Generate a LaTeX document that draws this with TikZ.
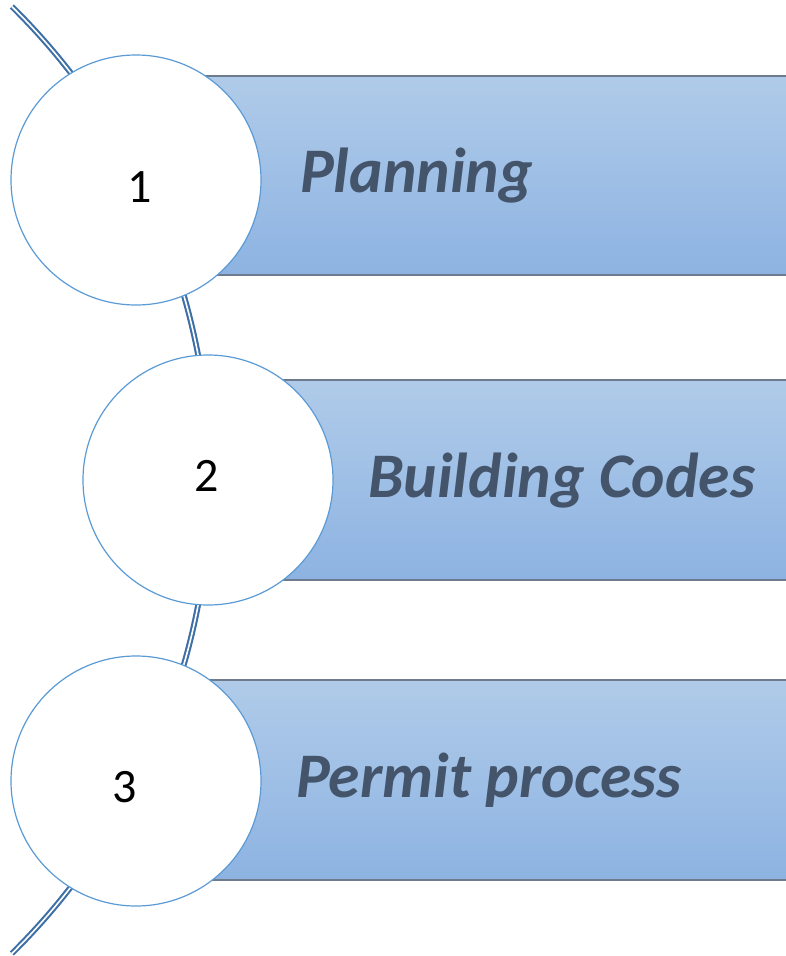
\documentclass[tikz,border=0pt]{standalone}
\usepackage{fontspec}
\setmainfont{Carlito}
\definecolor{barTop}{HTML}{B0CBE9}
\definecolor{barBot}{HTML}{8DB3E2}
\definecolor{barEdge}{HTML}{6E7B8C}
\definecolor{circEdge}{HTML}{5B9BD5}
\definecolor{arcCol}{HTML}{3E6FA6}
\definecolor{txtCol}{HTML}{44546A}
\tikzset{
  bar/.style={draw=barEdge, line width=1.6pt, top color=barTop, bottom color=barBot},
  circ/.style={circle, draw=circEdge, line width=1.2pt, fill=white, minimum size=250pt, inner sep=0pt},
  digit/.style={font=\fontsize{48}{48}\selectfont, text=black, inner sep=0pt},
  label/.style={font=\fontsize{63.5}{63.5}\selectfont\bfseries\itshape, text=txtCol, anchor=base west, inner sep=0pt},
  arcline/.style={draw=arcCol, double=white, line width=2.1pt, double distance=1.6pt}
}
\begin{document}
\begin{tikzpicture}[x=1pt,y=-1pt]
\useasboundingbox (0,0) rectangle (786,956);
\clip (0,0) rectangle (786,956);
\fill[white] (0,0) rectangle (786,956);
% background arc
\coordinate (arcC) at (-455,480);
\draw[arcline] (arcC) ++(-45.4:665) arc[start angle=-45.4, end angle=45.4, radius=665];
% bars
\draw[bar] (136,76) rectangle (800,275);
\draw[bar] (208,380) rectangle (800,580);
\draw[bar] (136,680) rectangle (800,880);
% circles
\node[circ] (c1) at (136,180) {};
\node[circ] (c2) at (208,480) {};
\node[circ] (c3) at (136,781) {};
% digits
\node[digit] (n1) at (140,187) {1};
\node[digit] (n2) at (207,476) {2};
\node[digit] (n3) at (125,787) {3};
% labels
\node[label] (t1) at (300,192) {Planning};
\node[label] (t2) at (368,497) {Building Codes};
\node[label] (t3) at (296,797) {Permit process};
\end{tikzpicture}
\end{document}
